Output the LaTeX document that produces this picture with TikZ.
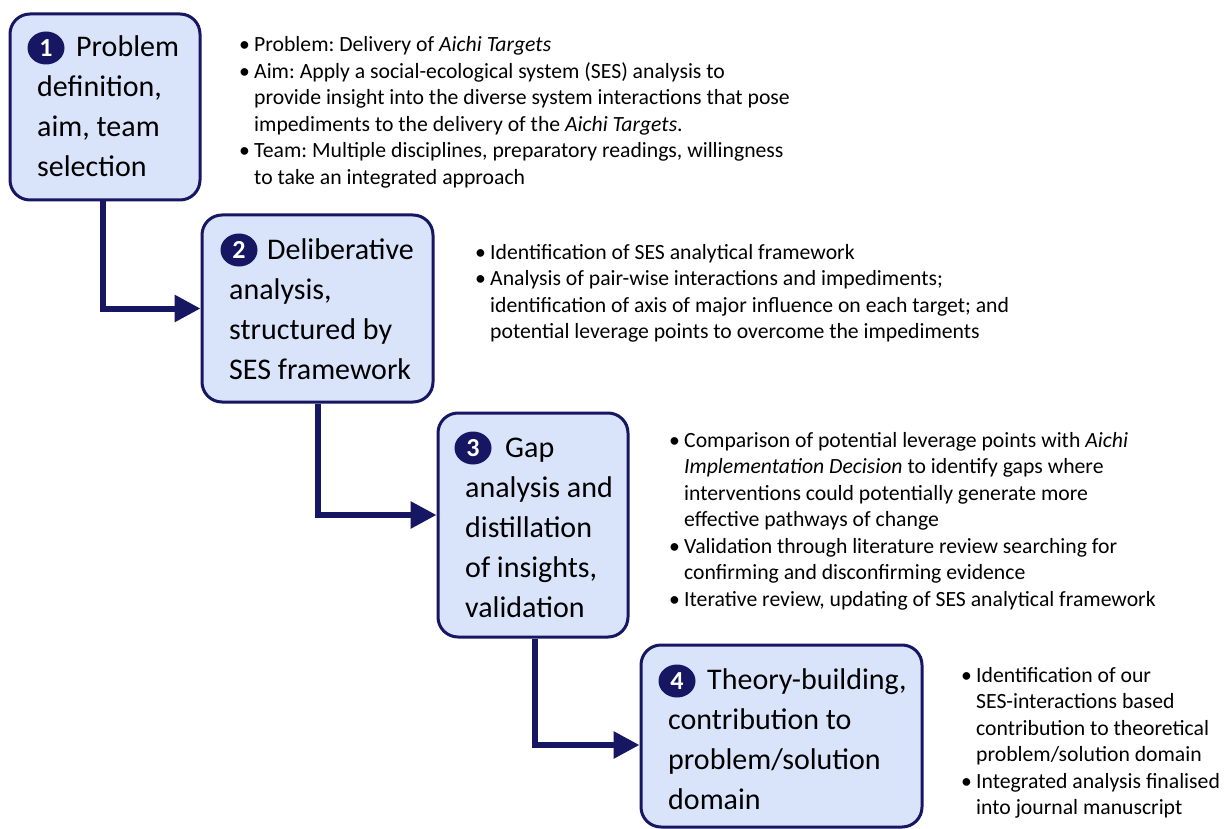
\documentclass[tikz,border=0pt]{standalone}
\usepackage{fontspec}
\setmainfont{Carlito}
\usetikzlibrary{arrows.meta,shapes.geometric}
\definecolor{navy}{RGB}{22,22,98}
\definecolor{boxfill}{RGB}{217,227,250}
\begin{document}
\frenchspacing
\begin{tikzpicture}[x=1pt,y=-1pt,
  stepbox/.style={draw=navy, line width=3pt, fill=boxfill, rounded corners=20pt, inner sep=0pt},
  boxtxt/.style={anchor=base west, inner sep=0pt, font=\fontsize{30}{40}\selectfont},
  numc/.style={ellipse, fill=navy, text=white, inner sep=0pt, minimum width=37pt, minimum height=33pt, font=\fontsize{26}{26}\selectfont\bfseries},
  btxt/.style={anchor=base west, inner sep=0pt, font=\fontsize{21.7}{26}\selectfont},
  link/.style={draw=navy, line width=6pt, -{Triangle[length=26pt,width=26pt]}}]
\useasboundingbox (0,0) rectangle (1226,829);
\fill[white] (0,0) rectangle (1226,829);

% boxes
\node[stepbox, minimum width=190pt, minimum height=186pt] (b1) at (105,107) {};
\node[stepbox, minimum width=231pt, minimum height=187pt] (b2) at (317.5,308.5) {};
\node[stepbox, minimum width=190pt, minimum height=224pt] (b3) at (533,525) {};
\node[stepbox, minimum width=281pt, minimum height=182pt] (b4) at (781.5,736) {};

% connectors
\draw[link] ([xshift=-2pt]b1.south) |- (b2.west);
\draw[link] (b2.south) |- ([yshift=10pt]b3.west);
\draw[link] ([xshift=2pt]b3.south) |- ([yshift=-9pt]b4.west);

% box 1 text
\node[numc] (n1) at (46,48) {1};
\node[boxtxt] (t1a) at (76,57) {Problem};
\node[boxtxt] (t1b) at (37,97) {definition,};
\node[boxtxt] (t1c) at (37,137) {aim, team};
\node[boxtxt] (t1d) at (37,177) {selection};

% box 2 text
\node[numc] (n2) at (239,250) {2};
\node[boxtxt] (t2a) at (267,259) {Deliberative};
\node[boxtxt] (t2b) at (229,299) {analysis,};
\node[boxtxt] (t2c) at (229,339) {structured by};
\node[boxtxt] (t2d) at (229,379) {SES framework};

% box 3 text
\node[numc] (n3) at (473,448) {3};
\node[boxtxt] (t3a) at (505,457) {Gap};
\node[boxtxt] (t3b) at (465,497) {analysis and};
\node[boxtxt] (t3c) at (465,537) {distillation};
\node[boxtxt] (t3d) at (465,577) {of insights,};
\node[boxtxt] (t3e) at (465,617) {validation};

% box 4 text
\node[numc] (n4) at (677,681) {4};
\node[boxtxt] (t4a) at (707,689) {Theory-building,};
\node[boxtxt] (t4b) at (668,729) {contribution to};
\node[boxtxt] (t4c) at (668,769) {problem/solution};
\node[boxtxt] (t4d) at (668,809) {domain};

% bullets 1
\foreach \y/\t [count=\i] in {
  52/{Problem: Delivery of \textit{Aichi Targets}},
  78.5/{Aim: Apply a social-ecological system (SES) analysis to},
  105/{provide insight into the diverse system interactions that pose},
  131.5/{impediments to the delivery of the \textit{Aichi Targets}.},
  158/{Team: Multiple disciplines, preparatory readings, willingness},
  184.5/{to take an integrated approach}}
  \node[btxt] (p1-\i) at (254,\y) {\t};
\foreach \y [count=\i] in {52,78.5,158}
  \node[btxt] (d1-\i) at (239,\y) {•};

% bullets 2
\foreach \y/\t [count=\i] in {
  259/{Identification of SES analytical framework},
  285.5/{Analysis of pair-wise interactions and impediments;},
  312/{identification of axis of major influence on each target; and},
  338.5/{potential leverage points to overcome the impediments}}
  \node[btxt] (p2-\i) at (490,\y) {\t};
\foreach \y [count=\i] in {259,285.5}
  \node[btxt] (d2-\i) at (475,\y) {•};

% bullets 3
\foreach \y/\t [count=\i] in {
  447/{Comparison of potential leverage points with \textit{Aichi}},
  473.5/{\textit{Implementation Decision} to identify gaps where},
  500/{interventions could potentially generate more},
  526.5/{effective pathways of change},
  553/{Validation through literature review searching for},
  579.5/{confirming and disconfirming evidence},
  606/{Iterative review, updating of SES analytical framework}}
  \node[btxt] (p3-\i) at (684,\y) {\t};
\foreach \y [count=\i] in {447,553,606}
  \node[btxt] (d3-\i) at (669,\y) {•};

% bullets 4
\foreach \y/\t [count=\i] in {
  682/{Identification of our},
  708.5/{SES-interactions based},
  735/{contribution to theoretical},
  761.5/{problem/solution domain},
  788/{Integrated analysis finalised},
  814.5/{into journal manuscript}}
  \node[btxt] (p4-\i) at (976,\y) {\t};
\foreach \y [count=\i] in {682,788}
  \node[btxt] (d4-\i) at (961,\y) {•};
\end{tikzpicture}
\end{document}
